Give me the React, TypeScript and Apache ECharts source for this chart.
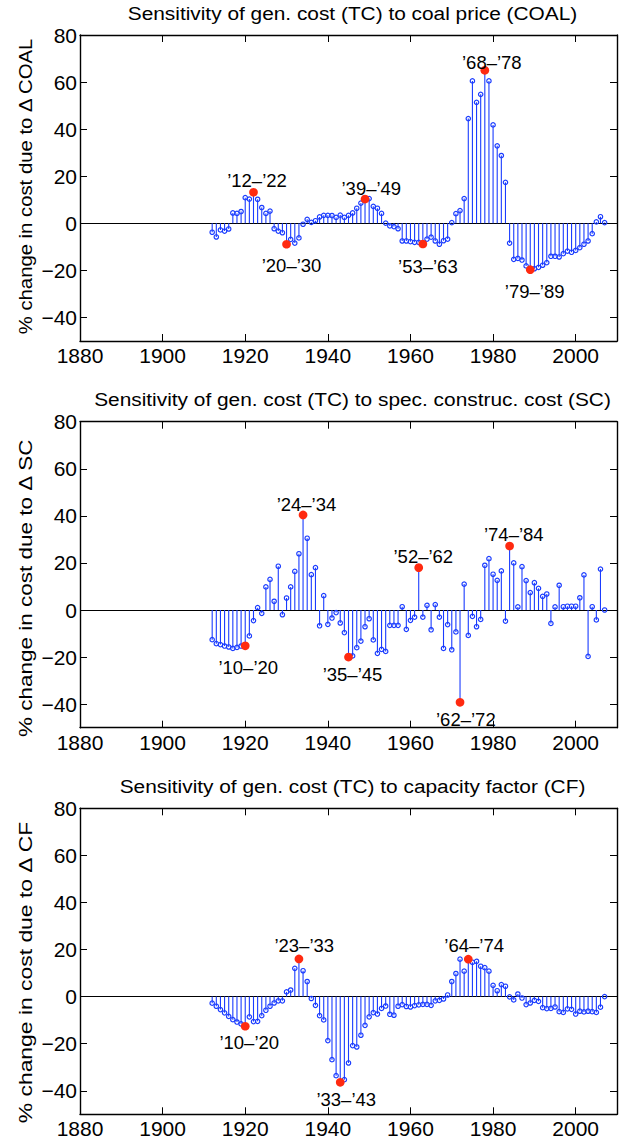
import React, { useEffect, useRef } from "react";
import * as echarts from "echarts";

// ---------------- data ----------------
const FIRST_YEAR = 1912;

// % change in cost due to change in coal price, 1912..2007
const COAL_CHANGE = [
  -3.8, -5.8, -2.8, -3.3, -2.4, 4.4, 4.2, 5.0, 10.9, 10.3,
  13.2, 10.2, 6.7, 4.2, 5.2, -2.3, -3.3, -4.0, -8.9, -6.8,
  -8.4, -6.2, -0.4, 1.7, 0.4, 1.1, 2.7, 3.4, 3.4, 3.3,
  2.5, 3.5, 2.5, 3.4, 4.4, 6.4, 8.6, 10.3, 10.5, 7.2,
  6.4, 4.2, 0.1, -1.1, -1.4, -2.3, -7.5, -7.5, -7.8, -8.1,
  -8.1, -8.8, -6.7, -5.9, -7.5, -8.9, -7.4, -6.7, 0.3, 4.1,
  5.4, 10.5, 44.5, 60.5, 51.4, 54.8, 65.0, 60.5, 41.8, 32.9,
  28.8, 17.4, -8.4, -15.3, -14.9, -15.6, -18.1, -19.7, -19.3, -18.7,
  -17.8, -16.7, -14.0, -14.0, -14.3, -12.9, -11.8, -12.3, -11.5, -10.3,
  -8.9, -7.5, -4.4, 0.6, 2.8, 0.3,
];

// % change in cost due to change in specific construction cost, 1912..2007
const SC_CHANGE = [
  -12.6, -14.3, -14.7, -15.3, -15.7, -16.3, -15.9, -15.3, -15.2, -11.0,
  -4.5, 1.0, -1.4, 9.8, 13.0, 3.7, 18.6, -2.0, 5.1, 9.8,
  16.4, 23.9, 40.4, 30.5, 15.0, 18.0, -6.7, 6.1, -6.1, -3.4,
  -1.1, -5.5, -9.6, -20.0, -19.5, -16.0, -13.2, -7.1, -3.7, -12.7,
  -18.4, -16.7, -17.6, -6.5, -6.5, -6.5, 1.4, -8.2, -4.4, -3.0,
  18.0, -3.0, 2.0, -8.4, 2.3, -3.0, -16.3, -6.2, -16.9, -9.3,
  -39.2, 11.0, -10.8, -2.7, -7.1, -4.0, 19.0, 21.8, 15.2, 12.6,
  16.6, -4.7, 27.2, 20.0, 1.3, 18.4, 12.5, 7.4, 11.6, 9.2,
  5.8, 6.8, -5.7, 1.3, 10.5, 1.4, 1.6, 1.6, 1.6, 5.2,
  14.9, -19.7, 1.4, -4.2, 17.4, 0.0,
];

// % change in cost due to change in capacity factor, 1912..2007
const CF_CHANGE = [
  -2.8, -4.1, -5.5, -6.9, -8.4, -9.8, -10.8, -11.6, -12.6, -8.6,
  -10.6, -10.5, -8.1, -5.8, -4.1, -2.7, -1.8, -1.8, 2.0, 2.8,
  12.0, 16.0, 11.0, 6.4, -0.8, -3.7, -8.1, -9.9, -18.7, -26.8,
  -33.6, -36.4, -35.3, -28.2, -20.8, -21.4, -16.4, -12.2, -8.6, -6.8,
  -7.4, -5.0, -4.0, -7.5, -7.9, -4.1, -3.4, -4.2, -4.4, -3.8,
  -3.5, -3.3, -3.3, -3.7, -1.8, -1.6, -1.0, 0.7, 6.4, 9.8,
  15.9, 10.8, 15.9, 14.6, 15.0, 12.9, 12.3, 10.8, 4.8, 2.5,
  5.1, 4.4, -0.1, -1.4, 1.1, -0.6, -3.4, -2.7, -1.6, -2.0,
  -4.7, -5.1, -5.0, -4.4, -6.4, -6.7, -5.2, -5.4, -7.4, -6.2,
  -6.5, -6.2, -6.4, -6.7, -4.5, 0.0,
];

// highlighted decade windows (end year of window + label)
const COAL_PEAK_YEARS = [1922, 1930, 1949, 1963, 1978, 1989];
const COAL_PEAK_LABELS = ["’12–’22", "’20–’30", "’39–’49", "’53–’63", "’68–’78", "’79–’89"];
const SC_PEAK_YEARS = [1920, 1934, 1945, 1962, 1972, 1984];
const SC_PEAK_LABELS = ["’10–’20", "’24–’34", "’35–’45", "’52–’62", "’62–’72", "’74–’84"];
const CF_PEAK_YEARS = [1920, 1933, 1943, 1974];
const CF_PEAK_LABELS = ["’10–’20", "’23–’33", "’33–’43", "’64–’74"];

const X_TICKS = [1880, 1900, 1920, 1940, 1960, 1980, 2000];
const Y_TICKS = [-40, -20, 0, 20, 40, 60, 80];
const X_MIN = 1880;
const X_MAX = 2010;
const Y_MIN = -50;
const Y_MAX = 80;

const TITLES = [
  "Sensitivity of gen. cost (TC) to coal price (COAL)",
  "Sensitivity of gen. cost (TC) to spec. construc. cost (SC)",
  "Sensitivity of gen. cost (TC) to capacity factor (CF)",
];
const Y_LABELS = [
  "% change in cost due to Δ COAL",
  "% change in cost due to Δ SC",
  "% change in cost due to Δ CF",
];

// ---------------- layout / style ----------------
const FONT = '"Liberation Sans", Arial, Helvetica, sans-serif';
const BLUE = "#1a3cff";
const RED = "#ff2a10";

const PANEL_TOPS = [35, 421.7, 808.3];
const PANEL_HEIGHT = 306;
const GRID_LEFT = 80;
const GRID_WIDTH = 537;
const TITLE_CX = 352.5;
const TITLE_DY = -22; // title center relative to panel top
const TITLE_LEN0 = 450; // width of the first title
const YLABEL_CX = 25;
const YLABEL_CY = [186.5, 588.3, 972.5];
const YLABEL_LEN = [297, 299, 303];

const PEAK_OFFSETS = [
  [[3.5, -11.7], [5, 21.7], [6.3, -11], [5, 22], [7, -7.6], [4.4, 21.6]],
  [[3, 22.2], [3.4, -10.6], [4, 17.6], [4.6, -11.6], [5.8, 17.7], [4.2, -11]],
  [[4, 16.6], [5.3, -13.3], [6, 17], [5.9, -14.1]],
];

function measure(text: string, size: number): number {
  const ctx = document.createElement("canvas").getContext("2d");
  if (!ctx) return text.length * size * 0.5;
  ctx.font = `${size}px "Liberation Sans"`;
  return ctx.measureText(text).width;
}

const minusFmt = (v: number) => (v < 0 ? "\u2212" + Math.abs(v) : String(v));
const plainFmt = (v: number) => String(v);

export default function App() {
  const ref = useRef<HTMLDivElement>(null);

  useEffect(() => {
    if (!ref.current) return;
    const chart = echarts.init(ref.current, undefined, { renderer: "svg" });

    const seriesValues = [COAL_CHANGE, SC_CHANGE, CF_CHANGE];
    const peakYears = [COAL_PEAK_YEARS, SC_PEAK_YEARS, CF_PEAK_YEARS];
    const peakLabels = [COAL_PEAK_LABELS, SC_PEAK_LABELS, CF_PEAK_LABELS];

    const grids: any[] = [];
    const xAxes: any[] = [];
    const yAxes: any[] = [];
    const series: any[] = [];
    const graphics: any[] = [];

    const titleSize = 19;
    const titleScale = TITLE_LEN0 / measure(TITLES[0], titleSize);
    const yLabelSize = 18.5;

    const axisLine = { show: true, onZero: false, lineStyle: { color: "#000", width: 1.4 } };

    for (let i = 0; i < 3; i++) {
      const vals = seriesValues[i];
      const pts = vals.map((v, k) => [FIRST_YEAR + k, v]);

      grids.push({
        left: GRID_LEFT,
        top: PANEL_TOPS[i],
        width: GRID_WIDTH,
        height: PANEL_HEIGHT,
        containLabel: false,
        outerBoundsMode: "none",
      });

      const xBase = {
        type: "value",
        gridIndex: i,
        min: X_MIN,
        max: X_MAX,
        axisLine,
        axisTick: {
          show: true,
          inside: true,
          length: 7,
          customValues: X_TICKS,
          lineStyle: { color: "#000", width: 1 },
        },
        splitLine: { show: false },
      };
      xAxes.push({
        ...xBase,
        position: "bottom",
        axisLabel: {
          show: true,
          customValues: X_TICKS,
          margin: 4,
          color: "#000",
          fontFamily: FONT,
          fontSize: 21,
          formatter: plainFmt,
        },
      });
      xAxes.push({ ...xBase, position: "top", axisLabel: { show: false } });

      const yBase = {
        type: "value",
        gridIndex: i,
        min: Y_MIN,
        max: Y_MAX,
        axisLine,
        axisTick: {
          show: true,
          inside: true,
          length: 7,
          customValues: Y_TICKS,
          lineStyle: { color: "#000", width: 1 },
        },
        splitLine: { show: false },
      };
      yAxes.push({
        ...yBase,
        position: "left",
        axisLabel: {
          show: true,
          customValues: Y_TICKS,
          margin: 3,
          color: "#000",
          fontFamily: FONT,
          fontSize: 21,
          formatter: minusFmt,
        },
      });
      yAxes.push({ ...yBase, position: "right", axisLabel: { show: false } });

      // stems
      series.push({
        type: "custom",
        xAxisIndex: 2 * i,
        yAxisIndex: 2 * i,
        silent: true,
        z: 2,
        data: pts,
        renderItem: (_p: any, api: any) => {
          const x = api.value(0);
          const v = api.value(1);
          const a = api.coord([x, 0]);
          const b = api.coord([x, v]);
          return {
            type: "line",
            shape: { x1: a[0], y1: a[1], x2: b[0], y2: b[1] },
            style: { stroke: BLUE, lineWidth: 1.1 },
          };
        },
      });

      // hollow markers + baseline
      series.push({
        type: "scatter",
        xAxisIndex: 2 * i,
        yAxisIndex: 2 * i,
        silent: true,
        z: 3,
        symbol: "circle",
        symbolSize: 4.4,
        itemStyle: { color: "rgba(0,0,0,0)", borderColor: BLUE, borderWidth: 1.2, opacity: 1 },
        data: pts,
        markLine: {
          silent: true,
          symbol: ["none", "none"],
          label: { show: false },
          lineStyle: { color: "#000", width: 1.2, type: "solid" },
          data: [{ yAxis: 0 }],
          z: 1,
        },
      });

      // red highlighted points with labels
      series.push({
        type: "scatter",
        xAxisIndex: 2 * i,
        yAxisIndex: 2 * i,
        silent: true,
        z: 4,
        symbol: "circle",
        symbolSize: 8.7,
        itemStyle: { color: RED, opacity: 1 },
        label: {
          show: true,
          position: "inside",
          formatter: (p: any) => p.name,
          color: "#000",
          fontFamily: FONT,
          fontSize: 18.5,
        },
        data: peakYears[i].map((yr, k) => ({
          name: peakLabels[i][k],
          value: [yr, vals[yr - FIRST_YEAR]],
          label: { offset: PEAK_OFFSETS[i][k] },
        })),
      });

      // title
      graphics.push({
        type: "text",
        x: TITLE_CX,
        y: PANEL_TOPS[i] + TITLE_DY,
        scaleX: titleScale,
        silent: true,
        style: {
          text: TITLES[i],
          fill: "#000",
          font: `${titleSize}px ${FONT}`,
          align: "center",
          verticalAlign: "middle",
        },
      });

      // y-axis label (rotated)
      const ylScale = YLABEL_LEN[i] / measure(Y_LABELS[i], yLabelSize);
      graphics.push({
        type: "text",
        x: YLABEL_CX,
        y: YLABEL_CY[i],
        rotation: Math.PI / 2,
        scaleX: ylScale,
        silent: true,
        style: {
          text: Y_LABELS[i],
          fill: "#000",
          font: `${yLabelSize}px ${FONT}`,
          align: "center",
          verticalAlign: "middle",
        },
      });
    }

    chart.setOption({
      animation: false,
      backgroundColor: "#fff",
      grid: grids,
      xAxis: xAxes,
      yAxis: yAxes,
      series,
      graphic: graphics,
    });

    return () => chart.dispose();
  }, []);

  return (
    <div
      ref={ref}
      style={{ position: "fixed", left: 0, top: 0, width: 625, height: 1139, background: "#fff" }}
    />
  );
}
